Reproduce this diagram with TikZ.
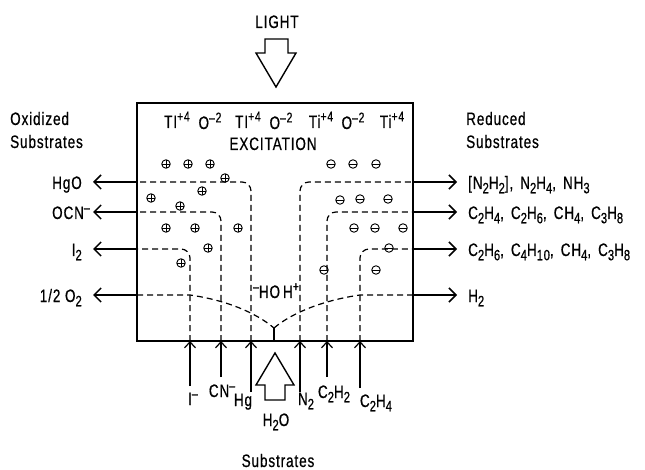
\documentclass[tikz,border=0pt]{standalone}
\usepackage{fontspec}
\setmainfont[FakeStretch=0.75, LetterSpace=5, FakeBold=0.6]{Liberation Sans}
\usetikzlibrary{arrows.meta}
\newcommand\sbt[1]{\raisebox{-0.45ex}{\fontsize{15}{15}\selectfont #1}}
\newcommand\spt[1]{\raisebox{0.7ex}{\fontsize{14}{14}\selectfont #1}}
\newcommand\csp{,\hspace{7pt}}
\begin{document}
\begin{tikzpicture}[x=1pt,y=-1pt,
  font=\fontsize{18}{20}\selectfont,
  boxline/.style={line width=1.3pt},
  dsh/.style={line width=1.2pt, dash pattern=on 6pt off 4pt, rounded corners=9pt},
  arr/.style={line width=1.5pt, -{Straight Barb[length=7pt,width=14pt]}},
  barr/.style={line width=1.2pt, -{Straight Barb[length=6pt,width=11pt]}},
  hollow/.style={line width=1.4pt, line join=miter},
  chg/.style={circle, draw, line width=0.9pt, minimum size=8.5pt, inner sep=0pt},
  cplus/.style={chg, path picture={\draw[line width=0.9pt]
      (path picture bounding box.north) -- (path picture bounding box.south)
      (path picture bounding box.west) -- (path picture bounding box.east);}},
  cminus/.style={chg, path picture={\draw[line width=0.9pt]
      (path picture bounding box.west) -- (path picture bounding box.east);}},
  lab/.style={inner sep=0pt}
]
\useasboundingbox (0,0) rectangle (645,470);

% box
\draw[boxline] (137,103) rectangle (413,341);

% coordinates: left edge / tips
\coordinate (hgE) at (137,182); \coordinate (hgT) at (93,182);
\coordinate (ocE) at (137,212); \coordinate (ocT) at (93,212);
\coordinate (ioE) at (137,249); \coordinate (ioT) at (93,249);
\coordinate (oxE) at (137,295); \coordinate (oxT) at (93,295);
% right edge / tips
\coordinate (nnE) at (413,182); \coordinate (nnT) at (457,182);
\coordinate (caE) at (413,212); \coordinate (caT) at (457,212);
\coordinate (cbE) at (413,249); \coordinate (cbT) at (457,249);
\coordinate (hhE) at (413,295); \coordinate (hhT) at (457,295);
% bottom entries / tails
\coordinate (ioB) at (190,341); \coordinate (ioS) at (190,386);
\coordinate (cnB) at (221,341); \coordinate (cnS) at (221,377);
\coordinate (hgB) at (251,341); \coordinate (hgS) at (251,392);
\coordinate (ntB) at (300,341); \coordinate (ntS) at (300,392);
\coordinate (czB) at (327,341); \coordinate (czS) at (327,377);
\coordinate (cyB) at (360,341); \coordinate (cyS) at (360,388);
\coordinate (mid) at (274,328); \coordinate (midB) at (274,341);

% dashed paths inside
\draw[dsh] (hgB) |- (hgE);
\draw[dsh] (cnB) |- (ocE);
\draw[dsh] (ioB) |- (ioE);
\draw[dsh] (ntB) |- (nnE);
\draw[dsh] (czB) |- (caE);
\draw[dsh] (cyB) |- (cbE);
\draw[dsh, rounded corners=0pt] (oxE) -- (190,295) .. controls (225,300) and (255,312) .. (mid);
\draw[dsh, rounded corners=0pt] (hhE) -- (360,295) .. controls (325,300) and (293,312) .. (mid);
\draw[line width=1.1pt] (mid) -- (midB);

% outgoing arrows
\draw[arr] (hgE) -- (hgT);
\draw[arr] (ocE) -- (ocT);
\draw[arr] (ioE) -- (ioT);
\draw[arr] (oxE) -- (oxT);
\draw[arr] (nnE) -- (nnT);
\draw[arr] (caE) -- (caT);
\draw[arr] (cbE) -- (cbT);
\draw[arr] (hhE) -- (hhT);

% incoming arrows
\draw[barr] (ioS) -- (ioB);
\draw[barr] (cnS) -- (cnB);
\draw[barr] (hgS) -- (hgB);
\draw[barr] (ntS) -- (ntB);
\draw[barr] (czS) -- (czB);
\draw[barr] (cyS) -- (cyB);

% big hollow arrows
\draw[hollow] (265,39) -- (288,39) -- (288,53) -- (296,53) -- (276,87) -- (256,53) -- (265,53) -- cycle;
\draw[hollow] (275,353) -- (294,385) -- (285,385) -- (285,400) -- (265,400) -- (265,385) -- (256,385) -- cycle;

% plus charges
\node[cplus] (p1) at (166,164) {};
\node[cplus] (p2) at (188,164) {};
\node[cplus] (p3) at (210,164) {};
\node[cplus] (p4) at (225,178) {};
\node[cplus] (p5) at (202,191) {};
\node[cplus] (p6) at (151,198) {};
\node[cplus] (p7) at (180,206) {};
\node[cplus] (p8) at (166,228) {};
\node[cplus] (p9) at (195,228) {};
\node[cplus] (p10) at (238,228) {};
\node[cplus] (p11) at (208,248) {};
\node[cplus] (p12) at (181,263) {};
% minus charges
\node[cminus] (m1) at (331,164) {};
\node[cminus] (m2) at (353,164) {};
\node[cminus] (m3) at (376,164) {};
\node[cminus] (m4) at (340,200) {};
\node[cminus] (m5) at (360,199) {};
\node[cminus] (m6) at (388,199) {};
\node[cminus] (m7) at (354,228) {};
\node[cminus] (m8) at (375,228) {};
\node[cminus] (m9) at (403,228) {};
\node[cminus] (m10) at (389,248) {};
\node[cminus] (m11) at (324,270) {};
\node[cminus] (m12) at (376,270) {};

% top texts
\node[lab, anchor=base] (light) at (277,28) {LIGHT};
\node[lab, anchor=base] (t1) at (177,128) {TI\spt{+4}};
\node[lab, anchor=base] (o1) at (210,129) {O\spt{–2}};
\node[lab, anchor=base] (t2) at (248,128) {TI\spt{+4}};
\node[lab, anchor=base] (o2) at (281,129) {O\spt{–2}};
\node[lab, anchor=base] (t3) at (321,128) {Ti\spt{+4}};
\node[lab, anchor=base] (o3) at (353,129) {O\spt{–2}};
\node[lab, anchor=base] (t4) at (392,128) {Ti\spt{+4}};
\node[lab, anchor=base] (exc) at (273,150) {EXCITATION};
\node[lab, anchor=base] (hoh) at (276,298) {\spt{–}HO\,H\spt{+}};

% side headings
\node[lab, anchor=base west] (oxa) at (10,125) {Oxidized};
\node[lab, anchor=base west] (oxb) at (10,148) {Substrates};
\node[lab, anchor=base west] (rda) at (466,125) {Reduced};
\node[lab, anchor=base west] (rdb) at (466,148) {Substrates};

% left labels
\node[lab, anchor=base east] (lhg) at (82,189) {HgO};
\node[lab, anchor=base east] (loc) at (90,219) {OCN\spt{–}};
\node[lab, anchor=base east] (lio) at (82,256) {I\sbt{2}};
\node[lab, anchor=base east] (lox) at (82,302) {1/2 O\sbt{2}};

% right labels
\node[lab, anchor=base west] (rnn) at (468,189) {[N\sbt{2}H\sbt{2}]\csp N\sbt{2}H\sbt{4}\csp NH\sbt{3}};
\node[lab, anchor=base west] (rca) at (468,219) {C\sbt{2}H\sbt{4}\csp C\sbt{2}H\sbt{6}\csp CH\sbt{4}\csp C\sbt{3}H\sbt{8}};
\node[lab, anchor=base west] (rcb) at (468,256) {C\sbt{2}H\sbt{6}\csp C\sbt{4}H\sbt{10}\csp CH\sbt{4}\csp C\sbt{3}H\sbt{8}};
\node[lab, anchor=base west] (rhh) at (468,302) {H\sbt{2}};

% bottom labels
\node[lab, anchor=base] (bio) at (193,405) {I\spt{–}};
\node[lab, anchor=base] (bcn) at (222,397) {CN\spt{–}};
\node[lab, anchor=base] (bhg) at (243,406) {Hg};
\node[lab, anchor=base] (bwa) at (276,426) {H\sbt{2}O};
\node[lab, anchor=base] (bnt) at (306,405) {N\sbt{2}};
\node[lab, anchor=base] (bcz) at (334,398) {C\sbt{2}H\sbt{2}};
\node[lab, anchor=base] (bcy) at (376,407) {C\sbt{2}H\sbt{4}};
\node[lab, anchor=base] (subs) at (278,467) {Substrates};
\end{tikzpicture}
\end{document}
